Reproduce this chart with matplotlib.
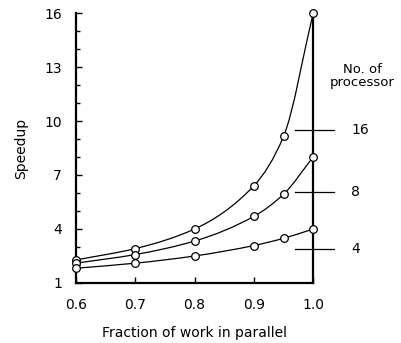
import numpy as np
import matplotlib
matplotlib.use("Agg")
import matplotlib.pyplot as plt
from matplotlib.path import Path
from matplotlib.patches import PathPatch

plt.rcParams["font.family"] = ["DejaVu Sans"]

# ---------------------------
# Data
# ---------------------------
fraction = [0.6, 0.7, 0.8, 0.9, 0.95, 1.0]
speedup_16 = [2.28, 2.91, 4.0, 6.4, 9.14, 16.0]
speedup_8 = [2.10, 2.58, 3.33, 4.70, 5.93, 8.0]
speedup_4 = [1.82, 2.10, 2.50, 3.08, 3.48, 4.0]

processors = ["16", "8", "4"]
label_y = [9.5, 6.05, 2.9]   # position of the little key marks on the right

y_ticks = [1, 4, 7, 10, 13, 16]
x_ticks = [0.6, 0.7, 0.8, 0.9, 1.0]
x_ticklabels = ["0.6", "0.7", "0.8", "0.9", "1.0"]


def smooth_path(x, y):
    # cubic bezier through the points (monotone tangents)
    x = np.asarray(x, float)
    y = np.asarray(y, float)
    h = np.diff(x)
    d = np.diff(y) / h
    m = np.zeros_like(y)
    m[0] = d[0]
    m[-1] = d[-1]
    for i in range(1, len(x) - 1):
        w1 = 2 * h[i] + h[i - 1]
        w2 = h[i] + 2 * h[i - 1]
        m[i] = (w1 + w2) / (w1 / d[i - 1] + w2 / d[i])
    verts = [(x[0], y[0])]
    codes = [Path.MOVETO]
    for i in range(len(x) - 1):
        verts += [(x[i] + h[i] / 3, y[i] + m[i] * h[i] / 3),
                  (x[i + 1] - h[i] / 3, y[i + 1] - m[i + 1] * h[i] / 3),
                  (x[i + 1], y[i + 1])]
        codes += [Path.CURVE4] * 3
    return Path(verts, codes)


fig = plt.figure(figsize=(4.02, 3.43), dpi=100)
ax = fig.add_axes([0.189, 0.175, 0.590, 0.787])

for ys in [speedup_16, speedup_8, speedup_4]:
    patch = PathPatch(smooth_path(fraction, ys), facecolor="none",
                      edgecolor="black", lw=0.9, clip_on=False, zorder=3)
    ax.add_patch(patch)
    ax.plot(fraction, ys, ls="none", marker="o", ms=5.5, mfc="white",
            mec="black", mew=0.9, clip_on=False, zorder=4)

# key marks crossing the right axis
for lab, yy in zip(processors, label_y):
    ax.plot([0.970, 1.035], [yy, yy], color="black", lw=0.9, clip_on=False)
    ax.text(1.064, yy, lab, ha="left", va="center", fontsize=10)
ax.text(1.083, 12.5, "No. of\nprocessor", ha="center", va="center",
        fontsize=9.5, linespacing=1.05)

ax.set_xlim(0.6, 1.0)
ax.set_ylim(1, 16)
ax.set_xticks(x_ticks)
ax.set_xticklabels(x_ticklabels)
ax.set_yticks(y_ticks)
ax.set_yticks(range(1, 17), minor=True)
ax.tick_params(axis="both", which="major", direction="in", length=4,
               width=1, labelsize=10)
ax.tick_params(axis="y", which="major", pad=10)
ax.tick_params(axis="x", which="major", pad=11)
ax.tick_params(axis="y", which="minor", direction="in", length=3, width=1)

ax.spines["top"].set_visible(False)
for s in ["left", "bottom", "right"]:
    ax.spines[s].set_linewidth(1.6)

ax.set_xlabel("Fraction of work in parallel", fontsize=10, labelpad=10)
ax.set_ylabel("Speedup", fontsize=10, labelpad=12)

fig.savefig("out.png", dpi=100)
